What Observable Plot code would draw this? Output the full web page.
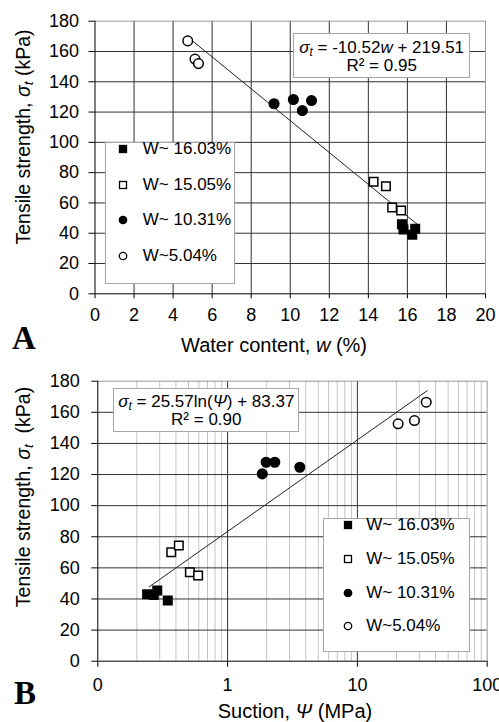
<!DOCTYPE html>
<html>
<head>
<meta charset="utf-8">
<script src="https://cdn.jsdelivr.net/npm/d3@7"></script>
<script src="https://cdn.jsdelivr.net/npm/@observablehq/plot@0.6"></script>
<style>
  html, body { margin: 0; padding: 0; background: #fff; }
  #root { position: relative; width: 499px; height: 722px; font-family: "Liberation Sans", Arial, sans-serif; color: #000; overflow: hidden; }
  .panel { position: absolute; left: 0; }
  .abs { position: absolute; white-space: nowrap; }
  .ytitle { font-size: 19.5px; line-height: 22px; transform: translate(-50%, -50%) rotate(-90deg); }
  .xtitle { font-size: 20px; line-height: 20px; transform: translateX(-50%); }
  .panelLabel { font-family: "Liberation Serif", "Times New Roman", serif; font-weight: bold; font-size: 33px; line-height: 33px; }
  .box { position: absolute; background: #fff; border: 1.5px solid #a6a6a6; box-sizing: border-box; }
  .eq { font-size: 17px; line-height: 18.5px; text-align: center; }
  .leg-row { position: absolute; font-size: 17px; line-height: 20px; transform: translateY(-50%); display: flex; align-items: center; }
  .leg-row svg { position: absolute; }
  i { font-style: italic; }
  sub { font-size: 70%; vertical-align: -0.25em; line-height: 0; }
  sup { font-size: 70%; vertical-align: 0.45em; line-height: 0; }
</style>
</head>
<body>
<div id="root">
  <div id="panelA" class="panel" style="top:0px"></div>
  <div id="panelB" class="panel" style="top:360px"></div>
</div>
<script>
// ---------------- Data: panel A (tensile strength vs water content) ----------------
const seriesNames = ["W~ 16.03%", "W~ 15.05%", "W~ 10.31%", "W~5.04%"];

const wA_16 = [15.72, 15.8, 16.25, 16.4];
const tA_16 = [46, 42.5, 39, 43];
const wA_15 = [14.27, 14.9, 15.22, 15.68];
const tA_15 = [74, 71, 57, 55];
const wA_10 = [9.17, 10.16, 10.62, 11.09];
const tA_10 = [125.5, 128.3, 121, 127.6];
const wA_5 = [4.75, 5.12, 5.3];
const tA_5 = [167, 155, 152];

// linear fit shown in panel A
const fitA_slope = -10.52;
const fitA_intercept = 219.51;
const fitA_range = [4.8, 16.55];

// ---------------- Data: panel B (tensile strength vs suction) ----------------
const sB_16 = [0.24, 0.27, 0.287, 0.346];
const tB_16 = [43, 42.5, 45.5, 39];
const sB_15 = [0.368, 0.421, 0.512, 0.593];
const tB_15 = [70, 74.4, 57.2, 55.1];
const sB_10 = [1.85, 1.98, 2.31, 3.6];
const tB_10 = [120.4, 127.9, 127.9, 124.7];
const sB_5 = [20.6, 27.5, 33.9];
const tB_5 = [152.6, 154.7, 166.5];

// logarithmic fit shown in panel B
const fitB_a = 25.57;
const fitB_b = 83.37;
const fitB_range = [0.25, 34.5];

// ---------------- Axes ----------------
const yTicks = [0, 20, 40, 60, 80, 100, 120, 140, 160, 180];
const xTicksA = [0, 2, 4, 6, 8, 10, 12, 14, 16, 18, 20];
const xTicksB = [0.1, 1, 10, 100];
const xTickLabelsB = ["0", "1", "10", "100"];
const xMinorGridB = [0.2, 0.3, 0.4, 0.5, 0.6, 0.7, 0.8, 0.9, 2, 3, 4, 5, 6, 7, 8, 9, 20, 30, 40, 50, 60, 70, 80, 90];
const xMajorGridB = [1, 10];

const zip = (xs, ys) => xs.map((x, i) => ({x, y: ys[i]}));
const FONT = "Liberation Sans, Arial, sans-serif";
const GRID = "#333";
const EDGE = "#9a9a9a";

const fitAPoints = fitA_range.map(x => ({x, y: fitA_slope * x + fitA_intercept}));
const fitBPoints = fitB_range.map(x => ({x, y: fitB_a * Math.log(x) + fitB_b}));

const dotStyles = [
  {symbol: "square", fill: "black", stroke: "black"},
  {symbol: "square", fill: "white", stroke: "black"},
  {symbol: "circle", fill: "black", stroke: "black"},
  {symbol: "circle", fill: "white", stroke: "black"}
];

function dots(sets) {
  return sets.map((d, i) => Plot.dot(d, {x: "x", y: "y", r: 4.8, strokeWidth: 1.5, ...dotStyles[i]}));
}

// ---------------- Panel A ----------------
const plotA = Plot.plot({
  width: 499, height: 360,
  marginLeft: 94.5, marginRight: 14, marginTop: 20.7, marginBottom: 66.7,
  style: {fontFamily: FONT, fontSize: "18px", color: "#000", background: "transparent", overflow: "visible"},
  x: {type: "linear", domain: [0, 20]},
  y: {domain: [0, 180]},
  marks: [
    Plot.ruleX(xTicksA.filter(d => d > 0 && d < 20), {stroke: GRID, strokeWidth: 1}),
    Plot.ruleY(yTicks.filter(d => d > 0 && d < 180), {stroke: GRID, strokeWidth: 1}),
    Plot.ruleX([20], {stroke: EDGE, strokeWidth: 1}),
    Plot.ruleY([180], {stroke: EDGE, strokeWidth: 1}),
    Plot.ruleX([0], {stroke: "#000"}),
    Plot.ruleY([0], {stroke: "#000"}),
    Plot.axisX({ticks: xTicksA, tickSize: 5, tickPadding: 9, label: null, tickFormat: d => String(d)}),
    Plot.axisY({ticks: yTicks, tickSize: 6, tickPadding: 10, label: null, tickFormat: d => String(d)}),
    Plot.line(fitAPoints, {x: "x", y: "y", stroke: "#222", strokeWidth: 1}),
    ...dots([zip(wA_16, tA_16), zip(wA_15, tA_15), zip(wA_10, tA_10), zip(wA_5, tA_5)])
  ]
});
document.getElementById("panelA").appendChild(plotA);

// ---------------- Panel B ----------------
const plotB = Plot.plot({
  width: 499, height: 362,
  marginLeft: 97.3, marginRight: 12.3, marginTop: 20.7, marginBottom: 61.3,
  style: {fontFamily: FONT, fontSize: "18px", color: "#000", background: "transparent", overflow: "visible"},
  x: {type: "log", domain: [0.1, 100]},
  y: {domain: [0, 180]},
  marks: [
    Plot.ruleX(xMinorGridB, {stroke: "#c4c4c4", strokeWidth: 1}),
    Plot.ruleX(xMajorGridB, {stroke: GRID, strokeWidth: 1}),
    Plot.ruleY(yTicks.filter(d => d > 0 && d < 180), {stroke: GRID, strokeWidth: 1}),
    Plot.ruleX([100], {stroke: EDGE, strokeWidth: 1}),
    Plot.ruleY([180], {stroke: EDGE, strokeWidth: 1}),
    Plot.ruleX([0.1], {stroke: "#000"}),
    Plot.ruleY([0], {stroke: "#000"}),
    Plot.axisX({ticks: xTicksB, tickSize: 6, tickPadding: 11, label: null, tickFormat: d => xTickLabelsB[xTicksB.indexOf(d)]}),
    Plot.axisY({ticks: yTicks, tickSize: 6, tickPadding: 12, label: null, tickFormat: d => String(d)}),
    Plot.line(fitBPoints, {x: "x", y: "y", stroke: "#222", strokeWidth: 1}),
    ...dots([zip(sB_16, tB_16), zip(sB_15, tB_15), zip(sB_10, tB_10), zip(sB_5, tB_5)])
  ]
});
document.getElementById("panelB").appendChild(plotB);

// ---------------- HTML overlays: titles, labels, equation boxes, legends ----------------
const root = document.getElementById("root");
function add(html, cls, css) {
  const el = document.createElement("div");
  el.className = cls;
  el.innerHTML = html;
  Object.assign(el.style, css);
  root.appendChild(el);
  return el;
}

add("Tensile strength, <i>σ<sub>t</sub></i> (kPa)", "abs ytitle", {left: "22.7px", top: "136.5px"});
add("Tensile strength, <i>σ<sub>t</sub></i>&nbsp; (kPa)", "abs ytitle", {left: "22.7px", top: "497px"});
add("Water content, <i>w</i> (%)", "abs xtitle", {left: "274px", top: "334.5px"});
add("Suction, <i>Ψ</i> (MPa)", "abs xtitle", {left: "295px", top: "701px"});
add("A", "abs panelLabel", {left: "12px", top: "322.4px"});
add("B", "abs panelLabel", {left: "14px", top: "676.7px"});

// equation boxes
add("<i>σ<sub>t</sub></i> = -10.52<i>w</i> + 219.51<br>R² = 0.95", "box eq",
    {left: "293.3px", top: "33.3px", width: "176.7px", height: "45px", paddingTop: "4.5px"});
add("<i>σ<sub>t</sub></i> = 25.57ln(<i>Ψ</i>) + 83.37<br>R² = 0.90", "box eq",
    {left: "113.3px", top: "388.3px", width: "186px", height: "43.4px", paddingTop: "3.5px"});

// legends
function symbolSVG(i) {
  const s = dotStyles[i];
  const shape = s.symbol === "square"
    ? `<rect x="1.5" y="1.5" width="7" height="7" fill="${s.fill}" stroke="black" stroke-width="1.3"/>`
    : `<circle cx="5" cy="5" r="3.7" fill="${s.fill}" stroke="black" stroke-width="1.3"/>`;
  return `<svg width="10" height="10" viewBox="0 0 10 10">${shape}</svg>`;
}
function legend(box, rowsY, symX, textX) {
  const b = add("", "box", {left: box[0] + "px", top: box[1] + "px", width: box[2] + "px", height: box[3] + "px"});
  seriesNames.forEach((name, i) => {
    const r = document.createElement("div");
    r.className = "leg-row";
    r.style.left = "0px";
    r.style.top = (rowsY[i] - box[1] - 1.5) + "px";
    r.style.width = "100%";
    r.style.height = "20px";
    r.innerHTML = `<span style="position:absolute;left:${symX - box[0] - 5 - 1.5}px;top:5px;line-height:0">${symbolSVG(i)}</span>` +
                  `<span style="position:absolute;left:${textX - box[0] - 1.5}px;top:0">${name}</span>`;
    b.appendChild(r);
  });
}
legend([105, 141.7, 130, 142.3], [150, 185.5, 221, 256.7], 123.8, 143.3);
legend([322.7, 518.3, 147.3, 133.4], [525.7, 560, 593.3, 626.7], 348.3, 366.7);
</script>
</body>
</html>
